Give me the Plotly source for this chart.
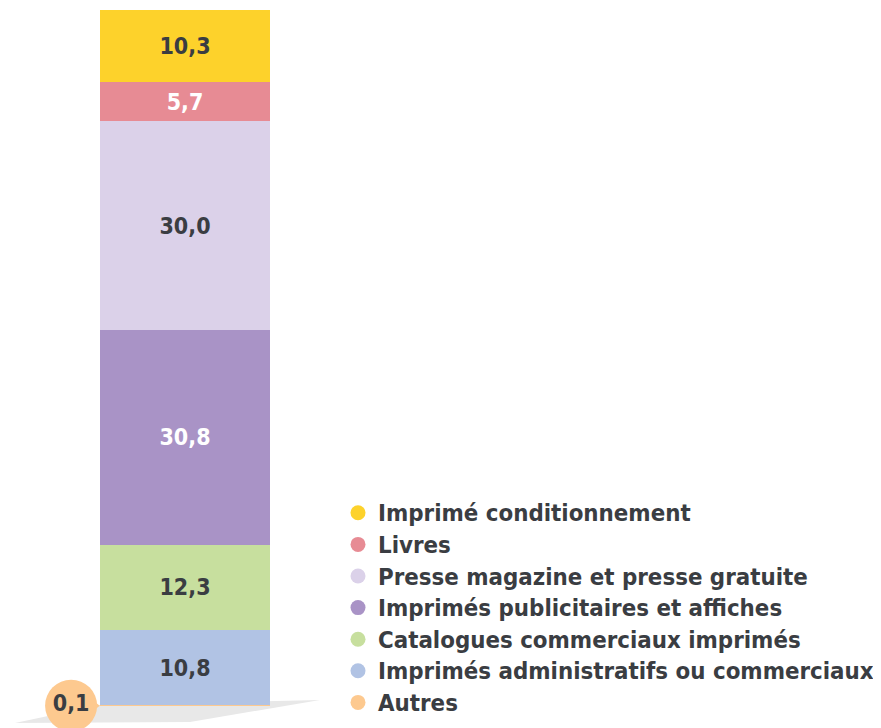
import plotly.graph_objects as go

# stacked shares (%), bottom to top
categories = [
    "Autres",
    "Imprimés administratifs ou commerciaux",
    "Catalogues commerciaux imprimés",
    "Imprimés publicitaires et affiches",
    "Presse magazine et presse gratuite",
    "Livres",
    "Imprimé conditionnement",
]
values = [0.1, 10.8, 12.3, 30.8, 30.0, 5.7, 10.3]
colors = ["#FDC98F", "#B1C3E4", "#C7DF9E", "#A993C6", "#DBD1E9", "#E78B94", "#FDD22B"]
label_colors = ["#3a3d42", "#3a3d42", "#3a3d42", "#ffffff", "#3a3d42", "#ffffff", "#3a3d42"]

W, H = 881, 728
OFF = 8  # page body margin
FONT = "DejaVu Sans Condensed"

fig = go.Figure()

for cat, val, col, lc in zip(categories, values, colors, label_colors):
    small = val < 1
    fig.add_trace(go.Bar(
        x=[0], y=[val], width=1, name=cat,
        marker=dict(color=col, line=dict(width=0)),
        texttemplate="" if small else "%{y:.1f}",
        textposition="inside", insidetextanchor="middle",
        textfont=dict(color=lc, size=23, family=FONT, weight="bold"),
        showlegend=False, legendgroup=cat, hoverinfo="skip",
    ))

# bubble for the tiny "Autres" share
fig.add_trace(go.Scatter(
    x=[-0.56], y=[values[0] / 2], mode="markers",
    marker=dict(symbol="triangle-right", size=20, color=colors[0]),
    showlegend=False, hoverinfo="skip",
))
fig.add_trace(go.Scatter(
    x=[-0.67], y=[values[0] / 2], mode="markers+text",
    marker=dict(symbol="circle", size=52, color=colors[0]),
    text=[f"{values[0]:.1f}".replace(".", ",")], textposition="middle center",
    textfont=dict(color="#3a3d42", size=23, family=FONT, weight="bold"),
    showlegend=False, hoverinfo="skip",
))

# legend entries (top to bottom); larger glyphs, row spacing kept from size 22
for cat, col in zip(categories[::-1], colors[::-1]):
    fig.add_trace(go.Scatter(
        x=[None], y=[None], mode="markers", legendgroup=cat,
        name=f'<span style="font-size:23.8px">{cat}</span>',
        marker=dict(symbol="circle", size=15, color=col),
    ))

px_x = 170.0
px_y = 696 / 100.0
left, top, bottom = 100 - OFF, 10 - OFF, 706 - OFF
fig.update_layout(
    width=W, height=H,
    margin=dict(l=0, r=0, t=0, b=0),
    paper_bgcolor="white", plot_bgcolor="white",
    barmode="stack", separators=", ",
    xaxis=dict(range=[-0.5 - left / px_x, -0.5 + (W - left) / px_x], visible=False, fixedrange=True),
    yaxis=dict(range=[-(H - bottom) / px_y, 100 + top / px_y], visible=False, fixedrange=True),
    legend=dict(
        x=(338 - OFF) / W, y=1 - (492 - OFF) / H, xanchor="left", yanchor="top",
        font=dict(size=22, color="#3a3d42", family=FONT, weight="bold"),
        tracegroupgap=0, itemwidth=30, bgcolor="rgba(0,0,0,0)",
    ),
    shapes=[dict(
        type="path", xref="paper", yref="paper", layer="below",
        path="M {:.4f},{:.4f} L {:.4f},{:.4f} L {:.4f},{:.4f} L {:.4f},{:.4f} Z".format(
            (15 - OFF) / W, 1 - (723 - OFF) / H, (100 - OFF) / W, 1 - (705 - OFF) / H,
            (320 - OFF) / W, 1 - (700 - OFF) / H, (190 - OFF) / W, 1 - (722 - OFF) / H),
        fillcolor="#E8E8E8", line=dict(width=0),
    )],
)

fig.write_html("out.html")
